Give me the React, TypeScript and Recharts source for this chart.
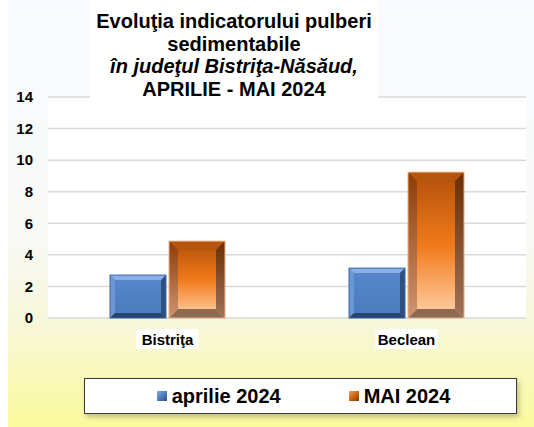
import React from 'react';
import { BarChart, Bar, XAxis, YAxis, CartesianGrid, Legend } from 'recharts';

const locations = ['Bistriţa', 'Beclean'];
const aprilie2024 = [2.72, 3.16];
const mai2024 = [4.87, 9.24];
const yTicks = [0, 2, 4, 6, 8, 10, 12, 14];

const data = locations.map((name, i) => ({
  name,
  aprilie: aprilie2024[i],
  mai: mai2024[i],
}));

const FONT = 'Arial, "Liberation Sans", sans-serif';

// bar with a bevelled "3D" look, like the old Excel charts
function BevelBar(props: any) {
  const { x, y, width, height, kind } = props;
  if (!height || height <= 0) return null;
  const blue = kind === 'blue';
  const b = blue ? 5 : 9;
  const x2 = x + width;
  const y2 = y + height;
  const pts = (arr: number[][]) => arr.map((p) => p.join(',')).join(' ');
  const c = blue
    ? { face: 'url(#blueFace)', top: '#8cb0e6', left: '#6b97d4', right: '#2f4f80', bottom: '#29456f', edge: '#3d66a3' }
    : { face: 'url(#orangeFace)', top: '#b4560e', left: 'url(#orangeLeft)', right: 'url(#orangeRight)', bottom: '#8c6a52', edge: '#e8b48c' };
  return (
    <g>
      <rect x={x} y={y} width={width} height={height} fill={c.face} />
      <polygon points={pts([[x, y], [x2, y], [x2 - b, y + b], [x + b, y + b]])} fill={c.top} />
      <polygon points={pts([[x, y], [x + b, y + b], [x + b, y2 - b], [x, y2]])} fill={c.left} />
      <polygon points={pts([[x2, y], [x2, y2], [x2 - b, y2 - b], [x2 - b, y + b]])} fill={c.right} />
      <polygon points={pts([[x, y2], [x + b, y2 - b], [x2 - b, y2 - b], [x2, y2]])} fill={c.bottom} />
      <rect x={x} y={y} width={width} height={height} fill="none" stroke={c.edge} strokeWidth={1} />
    </g>
  );
}

function CategoryTick(props: any) {
  const { x, y, payload } = props;
  return (
    <g transform={`translate(${x},${y})`}>
      <rect x={-31} y={3} width={62} height={20} fill="#ffffff" />
      <text x={0} y={19} textAnchor="middle" fontFamily={FONT} fontWeight="bold" fontSize={15} fill="#000">
        {payload.value}
      </text>
    </g>
  );
}

function LegendBox() {
  const item = (bg: string, label: string) => (
    <span style={{ display: 'flex', alignItems: 'center', gap: 5 }}>
      <span style={{ width: 10, height: 10, background: bg, display: 'inline-block' }} />
      <span>{label}</span>
    </span>
  );
  return (
    <div
      style={{
        width: 433,
        height: 36,
        boxSizing: 'border-box',
        border: '1.5px solid #3a3a3a',
        background: '#ffffff',
        boxShadow: '2px 3px 5px rgba(120,120,80,0.45)',
        display: 'flex',
        alignItems: 'center',
        justifyContent: 'center',
        gap: 68,
        paddingLeft: 6,
        fontFamily: FONT,
        fontWeight: 'bold',
        fontSize: 20,
        color: '#000',
      }}
    >
      {item('linear-gradient(135deg, #7fa6dc 0%, #4f7fc0 50%, #2c4a78 100%)', 'aprilie 2024')}
      {item('linear-gradient(135deg, #f4a060 0%, #d0650f 50%, #7a3a08 100%)', 'MAI 2024')}
    </div>
  );
}

export default function App() {
  return (
    <div style={{ position: 'absolute', left: 0, top: 0, width: 534, height: 427, background: '#ffffff' }}>
      <div
        style={{
          position: 'absolute',
          left: 8,
          top: 0,
          width: 526,
          height: 427,
          background: 'linear-gradient(180deg, #f8faff 0%, #f8f9f6 55%, #f7f7da 76%, #fafa9c 100%)',
        }}
      >
        <BarChart
          width={526}
          height={427}
          data={data}
          margin={{ top: 97, right: 8, left: 0, bottom: 79 }}
          barSize={56}
          barGap={3}
        >
          <defs>
            <linearGradient id="blueFace" x1="0" y1="0" x2="0" y2="1">
              <stop offset="0%" stopColor="#5787cc" />
              <stop offset="100%" stopColor="#4a7bbd" />
            </linearGradient>
            <linearGradient id="orangeFace" x1="0" y1="0" x2="0" y2="1">
              <stop offset="0%" stopColor="#b2500a" />
              <stop offset="50%" stopColor="#f07a1a" />
              <stop offset="100%" stopColor="#ffd2aa" />
            </linearGradient>
            <linearGradient id="orangeLeft" x1="0" y1="0" x2="0" y2="1">
              <stop offset="0%" stopColor="#8e3c05" />
              <stop offset="100%" stopColor="#cf9470" />
            </linearGradient>
            <linearGradient id="orangeRight" x1="0" y1="0" x2="0" y2="1">
              <stop offset="0%" stopColor="#6a2e02" />
              <stop offset="100%" stopColor="#a0725a" />
            </linearGradient>
          </defs>
          <CartesianGrid vertical={false} fill="#ffffff" stroke="#d9d9d9" strokeWidth={1.5} />
          <XAxis
            dataKey="name"
            axisLine={false}
            tickLine={false}
            height={30}
            tick={<CategoryTick />}
            interval={0}
          />
          <YAxis
            width={40}
            domain={[0, 14]}
            ticks={yTicks}
            axisLine={false}
            tickLine={false}
            tickSize={0}
            tickMargin={15}
            tick={{ fontFamily: FONT, fontWeight: 'bold', fontSize: 15, fill: '#000' }}
          />
          <Legend
            layout="horizontal"
            verticalAlign="middle"
            align="center"
            content={<LegendBox />}
            wrapperStyle={{ position: 'absolute', left: 76, top: 378, width: 433, height: 36 }}
          />
          <Bar dataKey="aprilie" name="aprilie 2024" shape={<BevelBar kind="blue" />} isAnimationActive={false} />
          <Bar dataKey="mai" name="MAI 2024" shape={<BevelBar kind="orange" />} isAnimationActive={false} />
        </BarChart>
      </div>
      <div
        style={{
          position: 'absolute',
          left: 90,
          top: 0,
          width: 288,
          height: 102,
          background: '#ffffff',
          fontFamily: FONT,
          fontWeight: 'bold',
          fontSize: 20,
          lineHeight: '22.5px',
          textAlign: 'center',
          color: '#000',
          paddingTop: 10,
          boxSizing: 'border-box',
        }}
      >
        <div>Evoluţia indicatorului pulberi</div>
        <div>sedimentabile</div>
        <div style={{ fontStyle: 'italic' }}>în judeţul Bistriţa-Năsăud,</div>
        <div>APRILIE - MAI 2024</div>
      </div>
    </div>
  );
}
